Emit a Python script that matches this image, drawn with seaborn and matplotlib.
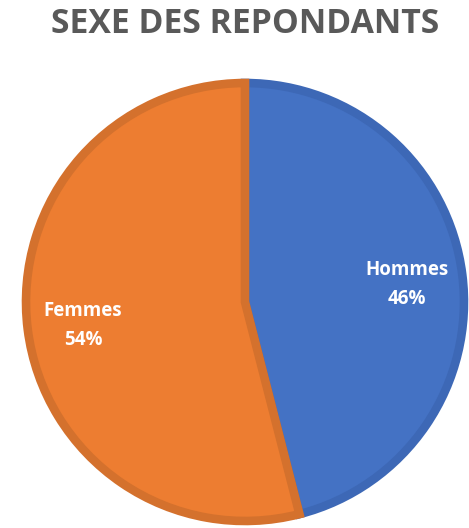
import matplotlib
matplotlib.use('Agg')
import matplotlib.pyplot as plt
import seaborn as sns

# Data
categories = ['Hommes', 'Femmes']
percentages = [46, 54]
title = 'SEXE DES REPONDANTS'

sns.set_theme(style='white')
plt.rcParams['font.family'] = ['Open Sans', 'DejaVu Sans']

fill_colors = ['#4472C4', '#ED7D31']
edge_colors = ['#3D68B6', '#D4712D']

fig = plt.figure(figsize=(4.69, 5.28), dpi=100)
# axes sized so the pie sits where it does in the original
ax = fig.add_axes([22 / 469, 3 / 528, 446 / 469, 446 / 528])

labels = [f'{c}\n{p}%' for c, p in zip(categories, percentages)]
wedges, texts = ax.pie(percentages, labels=labels, colors=fill_colors,
                       startangle=90, counterclock=False,
                       radius=0.982, labeldistance=0.745,
                       wedgeprops={'linewidth': 6.2},
                       textprops={'color': 'white', 'fontsize': 13.5,
                                  'fontweight': 'bold', 'linespacing': 1.6})
for w, ec in zip(wedges, edge_colors):
    w.set_edgecolor(ec)
    w.set_joinstyle('miter')
for t in texts:
    t.set_horizontalalignment('center')
    t.set_verticalalignment('center')
    x, y = t.get_position()
    t.set_position((x, y - 0.012))

ax.set_xlim(-1, 1)
ax.set_ylim(-1, 1)
ax.set_aspect('equal')
ax.axis('off')

fig.text(245 / 469, 1 - 24 / 528, title, ha='center', va='center',
         fontsize=24.3, fontweight='bold', color='#595959')

plt.savefig('out.png', dpi=100)
